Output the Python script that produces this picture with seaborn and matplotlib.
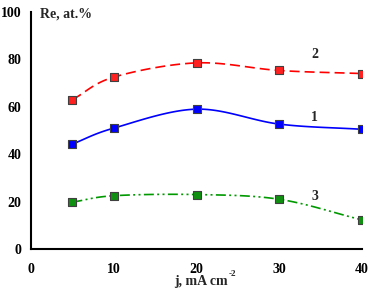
import numpy as np
import pandas as pd
import matplotlib
matplotlib.use("Agg")
import matplotlib.pyplot as plt
import seaborn as sns

j = [5, 10, 20, 30, 40]
re_1 = [44.3, 51.0, 59.0, 52.7, 50.5]
re_2 = [63.0, 72.5, 78.5, 75.3, 74.0]
re_3 = [19.8, 22.5, 23.0, 21.0, 12.3]
series_names = ["1", "2", "3"]
x_ticks = [0, 10, 20, 30, 40]
y_ticks = [0, 20, 40, 60, 80, 100]

sns.set_theme(style="white")
plt.rcParams['font.family'] = ['Liberation Serif', 'DejaVu Serif']
plt.rcParams['font.weight'] = 'bold'


def smooth(xs, ys, n=30):
    # Catmull-Rom style smoothing, like spreadsheet "smoothed line"
    xs = np.asarray(xs, float); ys = np.asarray(ys, float)
    px = np.concatenate([[2*xs[0]-xs[1]], xs, [2*xs[-1]-xs[-2]]])
    py = np.concatenate([[2*ys[0]-ys[1]], ys, [2*ys[-1]-ys[-2]]])
    ox, oy = [], []
    for i in range(1, len(px)-2):
        t = np.linspace(0, 1, n, endpoint=(i == len(px)-3))
        for arr, out in ((px, ox), (py, oy)):
            p0, p1, p2, p3 = arr[i-1], arr[i], arr[i+1], arr[i+2]
            out.extend(0.5*((2*p1) + (-p0+p2)*t + (2*p0-5*p1+4*p2-p3)*t**2 + (-p0+3*p1-3*p2+p3)*t**3))
    return np.array(ox), np.array(oy)


fig = plt.figure(figsize=(3.74, 2.90), dpi=100)
ax = fig.add_axes([0.083, 0.141, 0.885, 0.818])

styles = {
    "1": dict(color="#0000ff", dashes=(None)),
    "2": dict(color="#ff0000", dashes=(6, 3)),
    "3": dict(color="#009900", dashes=(6, 2, 1.2, 2, 1.2, 2)),
}
mfc = {"1": "#0000ff", "2": "#ff2020", "3": "#109010"}
for name, vals in zip(series_names, [re_1, re_2, re_3]):
    sx, sy = smooth(j, vals)
    line_df = pd.DataFrame({"x": sx, "y": sy})
    st = styles[name]
    sns.lineplot(data=line_df, x="x", y="y", ax=ax, color=st["color"], lw=1.2, sort=False)
    if st["dashes"] is not None:
        ax.lines[-1].set_dashes(st["dashes"])
    pts = pd.DataFrame({"x": j, "y": vals})
    sns.scatterplot(data=pts, x="x", y="y", ax=ax, marker="s", s=30,
                    color=mfc[name], edgecolor="#404040", linewidth=0.8, zorder=5)

ax.set_xlim(0, 40)
ax.set_ylim(0, 100)
ax.set_xticks(x_ticks)
ax.set_yticks(y_ticks)
ax.set_xlabel("")
ax.set_ylabel("")
for s in ["top", "right"]:
    ax.spines[s].set_visible(False)
for s in ["left", "bottom"]:
    ax.spines[s].set_color("black")
    ax.spines[s].set_linewidth(1.5)
ax.tick_params(axis="both", direction="out", length=4, width=1.2, color="black",
               labelsize=10, labelcolor="black")
ax.tick_params(axis="x", pad=6)
ax.tick_params(axis="y", pad=3)
for lab in ax.get_xticklabels() + ax.get_yticklabels():
    lab.set_fontweight("bold")
ax.grid(False)
ax.set_facecolor("white")

fig.text(40/374, 1-8/290, "Re, at.%", fontsize=10,
         fontweight="bold", va="top", ha="left")
fig.text(174/374, 0.008, "j, mA cm", fontsize=10, fontweight="bold",
         ha="left", va="bottom")
fig.text(229/374, 0.042, "-2", fontsize=6.5, fontweight="bold",
         ha="left", va="bottom")
label_pos = {"1": (34.3, 55.5), "2": (34.3, 82.0), "3": (34.3, 22.0)}
for name in series_names:
    ax.text(*label_pos[name], name, fontsize=10, fontweight="bold", ha="center", va="center")

fig.savefig("out.png", dpi=100)
